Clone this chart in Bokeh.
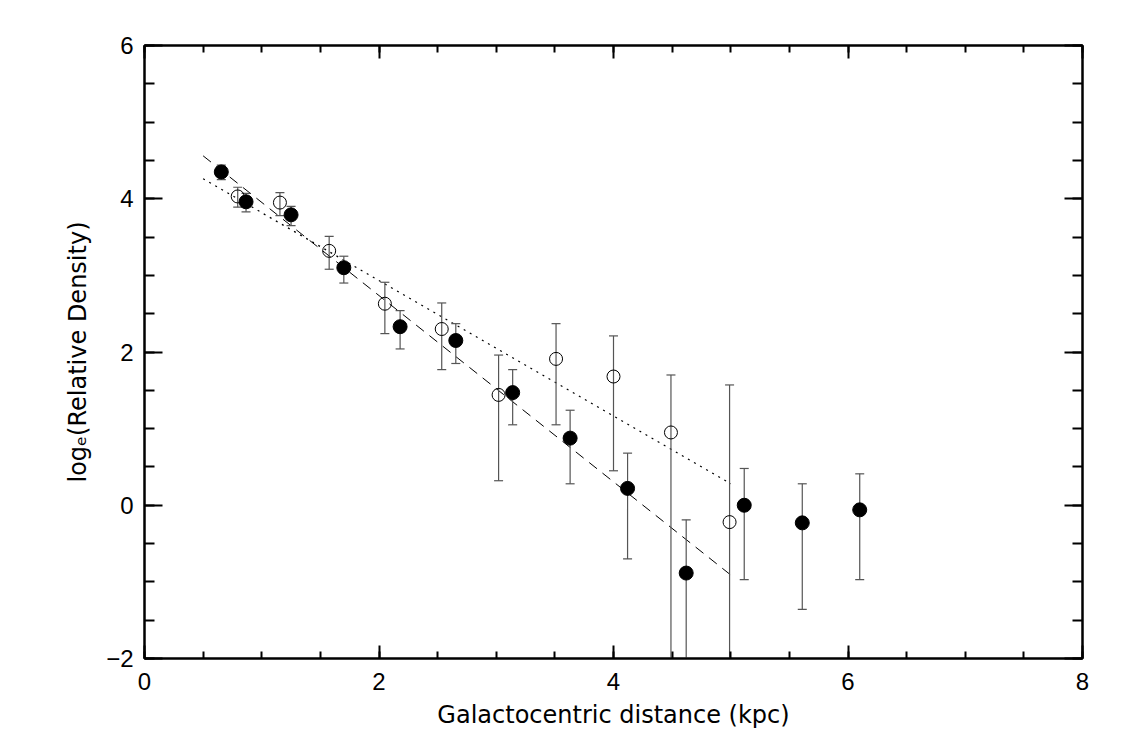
from bokeh.plotting import figure
from bokeh.models import LinearAxis, FixedTicker, ColumnDataSource, Range1d
from bokeh.embed import file_html
from bokeh.resources import INLINE

# Filled symbols: density profile, sample 1
filled_x = [0.655, 0.866, 1.25, 1.70, 2.18, 2.655, 3.14, 3.63, 4.12, 4.62, 5.115, 5.61, 6.10]
filled_y = [4.35, 3.96, 3.79, 3.10, 2.33, 2.15, 1.47, 0.876, 0.22, -0.885, 0.0, -0.23, -0.06]
filled_lo = [4.25, 3.83, 3.65, 2.90, 2.04, 1.85, 1.05, 0.28, -0.70, -3.0, -0.97, -1.36, -0.97]
filled_hi = [4.44, 4.07, 3.90, 3.25, 2.54, 2.37, 1.77, 1.24, 0.68, -0.19, 0.48, 0.28, 0.41]

# Open symbols: density profile, sample 2
open_x = [0.795, 1.155, 1.575, 2.05, 2.535, 3.02, 3.51, 4.00, 4.49, 4.99]
open_y = [4.03, 3.95, 3.32, 2.63, 2.30, 1.44, 1.91, 1.68, 0.95, -0.22]
open_lo = [3.89, 3.78, 3.08, 2.24, 1.77, 0.32, 1.05, 0.45, -3.0, -3.0]
open_hi = [4.15, 4.08, 3.51, 2.91, 2.64, 1.96, 2.37, 2.21, 1.70, 1.57]

# Exponential-disc fits (end points of the fitted lines)
fit_x = [0.5, 5.0]
dashed_fit = [4.56, -0.91]
dotted_fit = [4.26, 0.28]

x_major = [0, 2, 4, 6, 8]
x_minor = [i * 0.5 for i in range(17)]
y_major = [-2, 0, 2, 4, 6]
y_minor = [-2 + i * 0.5 for i in range(17)]
y_tick_text = {-2: "\u22122", 0: "0", 2: "2", 4: "4", 6: "6"}

TICK_FONT = "Liberation Sans"
LABEL_FONT = "DejaVu Sans"
BAR = "#555555"

p = figure(width=1125, height=750, x_range=Range1d(0, 8), y_range=Range1d(-2, 6),
           output_backend="svg", toolbar_location=None,
           min_border_left=144, min_border_right=43, min_border_top=45, min_border_bottom=92,
           x_axis_label="Galactocentric distance (kpc)",
           y_axis_label="log\u2091(Relative Density)")
p.grid.visible = False
p.outline_line_color = "black"
p.outline_line_width = 2
p.background_fill_color = "white"
p.border_fill_color = "white"


def style_axis(ax, major, minor, tick_major, tick_minor):
    ax.ticker = FixedTicker(ticks=major, minor_ticks=minor)
    ax.axis_line_color = "black"
    ax.axis_line_width = 2
    ax.major_tick_line_color = "black"
    ax.major_tick_line_width = 2
    ax.minor_tick_line_color = "black"
    ax.minor_tick_line_width = 2
    ax.major_tick_in = tick_major
    ax.major_tick_out = 0
    ax.minor_tick_in = tick_minor
    ax.minor_tick_out = 0
    ax.major_label_text_font = TICK_FONT
    ax.major_label_text_font_size = "24px"
    ax.major_label_text_color = "black"
    ax.axis_label_text_font = LABEL_FONT
    ax.axis_label_text_font_size = "24px"
    ax.axis_label_text_font_style = "normal"
    ax.axis_label_text_color = "black"


for ax in p.xaxis:
    style_axis(ax, x_major, x_minor, 13, 7)
    ax.major_label_standoff = 14
    ax.axis_label_standoff = 8
for ax in p.yaxis:
    style_axis(ax, y_major, y_minor, 18, 10)
    ax.major_label_overrides = y_tick_text
    ax.major_label_standoff = 11
    ax.axis_label_standoff = 11

# mirrored tick marks on the top and right edges, without labels
top = LinearAxis()
style_axis(top, x_major, x_minor, 13, 7)
top.major_label_text_color = None
top.major_label_standoff = 0
p.add_layout(top, "above")

right = LinearAxis()
style_axis(right, y_major, y_minor, 18, 10)
right.major_label_text_color = None
right.major_label_standoff = 0
p.add_layout(right, "right")

# fitted lines
p.line(fit_x, dashed_fit, line_color="black", line_width=1, line_dash="10 7")
p.line(fit_x, dotted_fit, line_color="black", line_width=1.2, line_dash="2 5")

filled = ColumnDataSource(dict(x=filled_x, y=filled_y, lo=filled_lo, hi=filled_hi))
opened = ColumnDataSource(dict(x=open_x, y=open_y, lo=open_lo, hi=open_hi))

for src in (opened, filled):
    p.segment(x0="x", y0="lo", x1="x", y1="hi", source=src, line_color=BAR, line_width=1.2)
    p.scatter(x="x", y="lo", source=src, marker="dash", size=9, line_color=BAR, line_width=1.2)
    p.scatter(x="x", y="hi", source=src, marker="dash", size=9, line_color=BAR, line_width=1.2)

p.scatter(x="x", y="y", source=opened, marker="circle", size=13,
          fill_color=None, line_color="black", line_width=1)
p.scatter(x="x", y="y", source=filled, marker="circle", size=14,
          fill_color="black", line_color="black", line_width=1)

open("out.html", "w").write(file_html(p, INLINE))
